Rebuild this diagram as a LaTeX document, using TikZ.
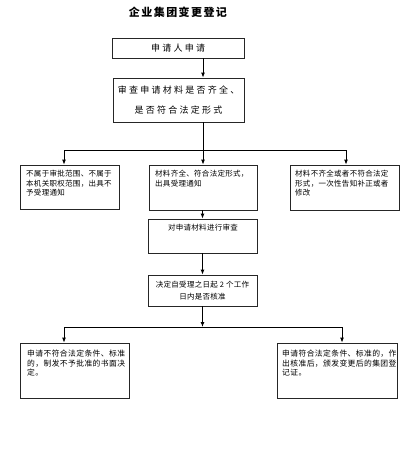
\documentclass[tikz,border=0pt]{standalone}
\usepackage{fontspec}
\setmainfont{Noto Sans CJK SC}
\newfontfamily\cjktitle[LetterSpace=13]{Noto Sans CJK SC}
\newfontfamily\cjkwide[LetterSpace=25]{Noto Sans CJK SC}
\newfontfamily\cjkmid[LetterSpace=4]{Noto Sans CJK SC}
\newfontfamily\cjklow[LetterSpace=5]{Noto Sans CJK SC}
\usetikzlibrary{arrows.meta}
\tikzset{
  box/.style={draw=black!85, line width=0.8pt, inner sep=0pt},
  arr/.style={draw=black, line width=0.9pt, -{Latex[length=5pt,width=4pt]}},
  ln/.style={draw=black, line width=0.9pt},
  midtxt/.style={anchor=north west, inner sep=0pt, align=left, font=\cjkmid\fontsize{7.5}{9.5}\selectfont},
  lowtxt/.style={anchor=north west, inner sep=0pt, align=left, font=\cjklow\fontsize{7.8}{9.5}\selectfont},
}
\begin{document}
\begin{tikzpicture}[x=1pt,y=-1pt]
\useasboundingbox (0,0) rectangle (404,456);
\fill[white] (0,0) rectangle (404,456);

\node[inner sep=0pt, font=\cjktitle\bfseries\fontsize{11}{13}\selectfont] (title) at (178,12) {企业集团变更登记};

\node[box, minimum width=132pt, minimum height=20pt, font=\cjkwide\fontsize{9}{11}\selectfont] (b1) at (178,48) {申请人申请};
\node[box, minimum width=131pt, minimum height=44pt, align=center, font=\cjkwide\fontsize{9}{20}\selectfont] (b2) at (178.5,100) {审查申请材料是否齐全、\\是否符合法定形式};

\node[box, minimum width=99pt, minimum height=44pt] (l1) at (69.5,187) {};
\node[box, minimum width=108pt, minimum height=45pt] (m1) at (203,187.5) {};
\node[box, minimum width=109pt, minimum height=45pt] (r1) at (344.5,187.5) {};
\node[midtxt] (l1t) at (26,170) {不属于审批范围、不属于\\本机关职权范围，出具不\\予受理通知};
\node[midtxt] (m1t) at (155,170) {材料齐全、符合法定形式，\\出具受理通知};
\node[midtxt] (r1t) at (295,170) {材料不齐全或者不符合法定\\形式，一次性告知补正或者\\修改};

\node[box, minimum width=109pt, minimum height=34pt] (m2) at (202.5,236) {};
\node[inner sep=0pt, font=\cjkmid\fontsize{7.5}{9.5}\selectfont] (m2t) at (203,228) {对申请材料进行审查};
\node[box, minimum width=109pt, minimum height=31pt, align=center, font=\cjkmid\fontsize{7.5}{12}\selectfont] (m3) at (202.5,290.5) {决定自受理之日起 2 个工作\\日内是否核准};

\node[box, minimum width=109pt, minimum height=55pt] (l2) at (74.5,370.5) {};
\node[box, minimum width=120pt, minimum height=55pt] (r2) at (337,370.5) {};
\node[lowtxt] (l2t) at (27,350) {申请不符合法定条件、标准\\的，制发不予批准的书面决\\定。};
\node[lowtxt] (r2t) at (282,350) {申请符合法定条件、标准的，作\\出核准后，颁发变更后的集团登\\记证。};

% connectors
\coordinate (j1) at (203,150);
\coordinate (j1l) at (64,150);
\coordinate (j1r) at (346,150);
\coordinate (j2) at (202.5,327);
\coordinate (j2l) at (64,327);
\coordinate (j2r) at (342,327);

\draw[arr] (b1.south -| m1.north) -- (b2.north -| m1.north);
\draw[arr] (b2.south -| m1.north) -- (m1.north);
\draw[ln] (j1l) -- (j1r);
\draw[arr] (j1l) -- (j1l |- l1.north);
\draw[arr] (j1r) -- (j1r |- r1.north);
\draw[arr] (m1.south -| m2.north) -- (m2.north);
\draw[arr] (m2.south) -- (m3.north);
\draw[arr] (m3.south) -- (j2);
\draw[ln] (j2l) -- (j2r);
\draw[arr] (j2l) -- (j2l |- l2.north);
\draw[arr] (j2r) -- (j2r |- r2.north);
\end{tikzpicture}
\end{document}
